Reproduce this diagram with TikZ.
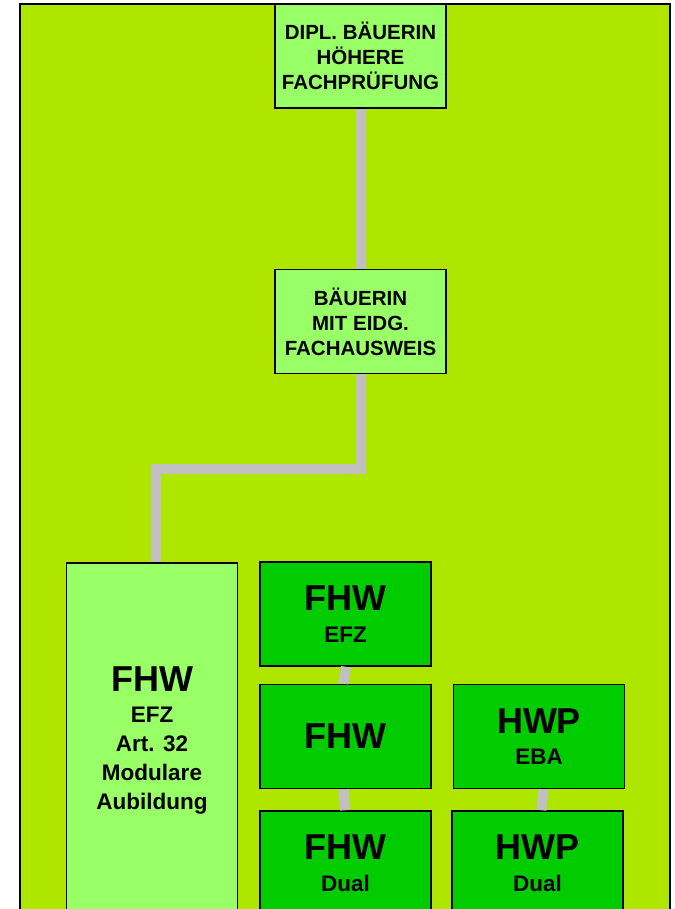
\documentclass[tikz,border=0pt]{standalone}
\usepackage{fontspec}
\setmainfont{Liberation Sans}
\usetikzlibrary{positioning}
\definecolor{frameLime}{RGB}{174,230,0}
\definecolor{boxLight}{RGB}{153,255,102}
\definecolor{boxDark}{RGB}{0,204,0}
\definecolor{linkGray}{RGB}{192,192,192}
\newcommand{\bigfhw}[1]{{\fontsize{36}{36}\selectfont #1}}

\begin{document}
\begin{tikzpicture}[x=1pt,y=-1pt,
  hb/.style={draw=black,line width=1.5pt,fill=boxLight,align=center,
             minimum width=171pt,minimum height=104pt,inner sep=0pt,
             font=\bfseries\fontsize{20.5}{25}\selectfont},
  lb/.style={hb,font=\bfseries\fontsize{22.5}{29}\selectfont},
  db/.style={lb,fill=boxDark},
  link/.style={draw=linkGray,line width=10pt},
]
\useasboundingbox (0,0) rectangle (674,909);
\clip (0,0) rectangle (674,909);
% frame
\draw[line width=2pt,fill=frameLime] (20,4) rectangle (670,940);

% upper ladder
\node[hb] (dipl) at (360.5,56)  {DIPL. BÄUERIN\\HÖHERE\\FACHPRÜFUNG};
\node[hb] (fach) at (360.5,321.5){BÄUERIN\\MIT EIDG.\\FACHAUSWEIS};

% modular path
\node[lb,minimum height=354pt] (mod) at (152,740)
  {\bigfhw{FHW}\\[2pt]EFZ\\Art. 32\\Modulare\\Aubildung};

% regular paths
\node[db] (efz) at (345.5,614) {\bigfhw{FHW}\\[2.6pt]EFZ};
\node[db,below=17pt of efz] (fhw) {\bigfhw{FHW}};
\node[db,below=21pt of fhw] (fhwdual) {\bigfhw{FHW}\\[2.6pt]Dual};
\node[db,right=21pt of fhw] (hwpeba) {\bigfhw{HWP}\\[2.6pt]EBA};
\node[db,below=21pt of hwpeba,xshift=-1.5pt] (hwpdual) {\bigfhw{HWP}\\[2.6pt]Dual};

% connectors
\coordinate (bend) at (156,469);
\draw[link] (dipl) -- (fach);
\draw[link] (fach.south) |- (bend) -- (bend |- mod.north);
\draw[link] ([xshift=0.5pt]efz.south) -- ([xshift=-2pt]fhw.north);
\draw[link] ([xshift=-2pt]fhw.south) -- ([xshift=-0.5pt]fhwdual.north);
\draw[link] ([xshift=4.5pt]hwpeba.south) -- ([xshift=4pt]hwpdual.north);
\end{tikzpicture}
\end{document}
